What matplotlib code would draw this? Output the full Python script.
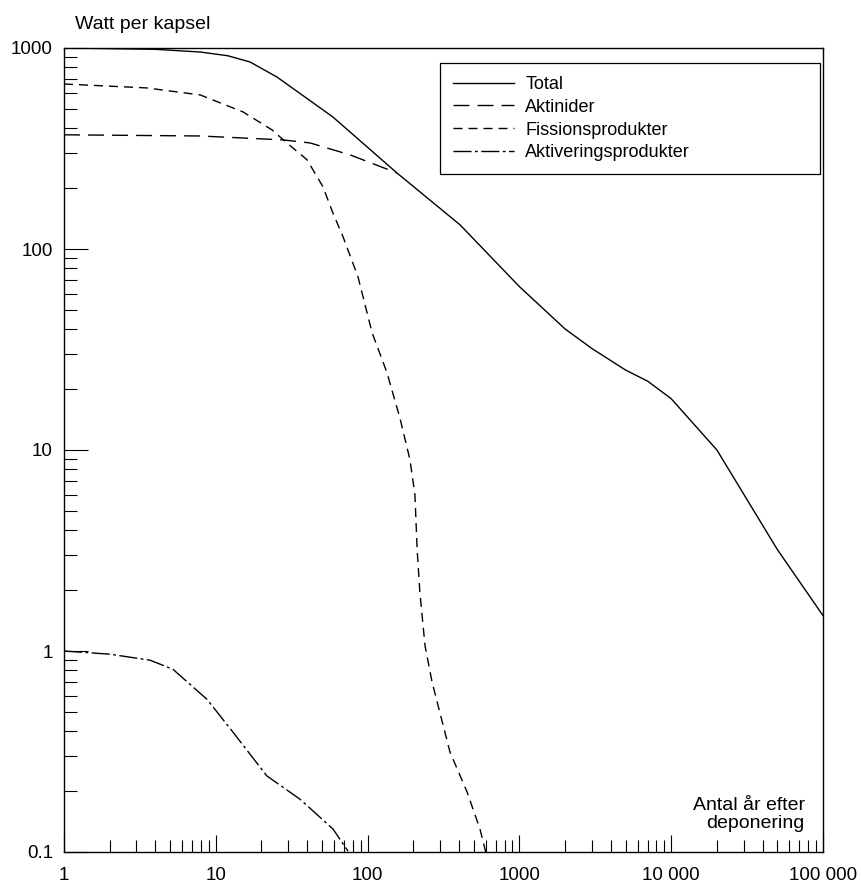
import matplotlib
matplotlib.use("Agg")
import matplotlib.pyplot as plt
from matplotlib.ticker import FixedLocator, FixedFormatter, NullFormatter

plt.rcParams['font.family'] = ['Liberation Sans', 'DejaVu Sans']
plt.rcParams['lines.scale_dashes'] = False

# ---- data ----
years_total = [1, 4, 7.9, 12, 16.8, 25.3, 59, 156, 406, 1000, 2000, 3000, 5000, 7000, 10000, 20000, 50000, 100000]
watt_total = [1000, 985, 955, 915, 852, 717, 454, 239, 132, 65, 40, 32, 25, 22, 18, 10, 3.2, 1.5]

years_akt = [1, 7.9, 27.7, 41.8, 76.6, 156]
watt_akt = [370, 365, 349, 337, 294, 239]

years_fis = [1, 3.5, 7.9, 15.1, 23.5, 29.4, 39.9, 50.8, 58.3, 68.9, 86.4, 107, 134, 163, 190,
             205, 212, 221, 239, 266, 349, 452, 550, 600]
watt_fis = [662, 633, 584, 481, 391, 337, 278, 204, 155, 115, 72.8, 38.4, 24.3, 14.5, 8.97,
            6.0, 3.2, 1.96, 1.06, 0.70, 0.314, 0.199, 0.130, 0.1]

years_act = [1, 2.01, 3.69, 5.22, 8.75, 13.0, 21.7, 35.9, 59.2, 74.3]
watt_act = [1.0, 0.964, 0.900, 0.811, 0.575, 0.394, 0.239, 0.183, 0.130, 0.101]

labels = ["Total", "Aktinider", "Fissionsprodukter", "Aktiveringsprodukter"]

x_major = [1, 10, 100, 1000, 10000, 100000]
x_major_labels = ["1", "10", "100", "1000", "10 000", "100 000"]
y_major = [0.1, 1, 10, 100, 1000]
y_major_labels = ["0.1", "1", "10", "100", "1000"]

# ---- figure ----
W, H = 862, 885
fig = plt.figure(figsize=(W / 100, H / 100), dpi=100)
ax = fig.add_axes([64 / W, (H - 852) / H, 759 / W, 804 / H])

lw = 1.0
ax.plot(years_total, watt_total, color='black', lw=lw, ls='-', label=labels[0])
ax.plot(years_akt, watt_akt, color='black', lw=lw, ls=(0, (11.5, 5.8)), label=labels[1])
ax.plot(years_fis, watt_fis, color='black', lw=lw, ls=(0, (6.5, 4.3)), label=labels[2])
ax.plot(years_act, watt_act, color='black', lw=lw, ls=(0, (13, 2.5, 2, 2.5)), label=labels[3])

ax.set_xscale('log')
ax.set_yscale('log')
ax.set_xlim(1, 100000)
ax.set_ylim(0.1, 1000)

ax.xaxis.set_major_locator(FixedLocator(x_major))
ax.xaxis.set_major_formatter(FixedFormatter(x_major_labels))
ax.xaxis.set_minor_formatter(NullFormatter())
ax.yaxis.set_major_locator(FixedLocator(y_major))
ax.yaxis.set_major_formatter(FixedFormatter(y_major_labels))
ax.yaxis.set_minor_formatter(NullFormatter())

ax.tick_params(axis='x', which='major', direction='in', length=12, width=0.8, pad=11,
               labelsize=13.5, top=False)
ax.tick_params(axis='x', which='minor', direction='in', length=8.5, width=0.8, top=False)
ax.tick_params(axis='y', which='major', direction='in', length=17, width=0.8, pad=8,
               labelsize=13.5, right=False)
ax.tick_params(axis='y', which='minor', direction='in', length=9.5, width=0.8, right=False)

for s in ax.spines.values():
    s.set_linewidth(1.0)
    s.set_color('black')

leg = ax.legend(loc='upper left', bbox_to_anchor=(0.4954, 0.8445, 0.5007, 0.1368),
                mode='expand', borderaxespad=0, fontsize=13, handlelength=3.4,
                handletextpad=0.6, labelspacing=0.32, borderpad=0.72, fancybox=False,
                framealpha=1, edgecolor='black')
leg.get_frame().set_linewidth(0.9)

fig.text(75 / W, 1 - 29 / H, "Watt per kapsel", fontsize=14, ha='left', va='baseline')
ax.text(0.976, 0.025, "Antal år efter\ndeponering", transform=ax.transAxes, fontsize=14,
        ha='right', va='bottom', multialignment='right', linespacing=1.05)

fig.savefig("out.png", dpi=100)
